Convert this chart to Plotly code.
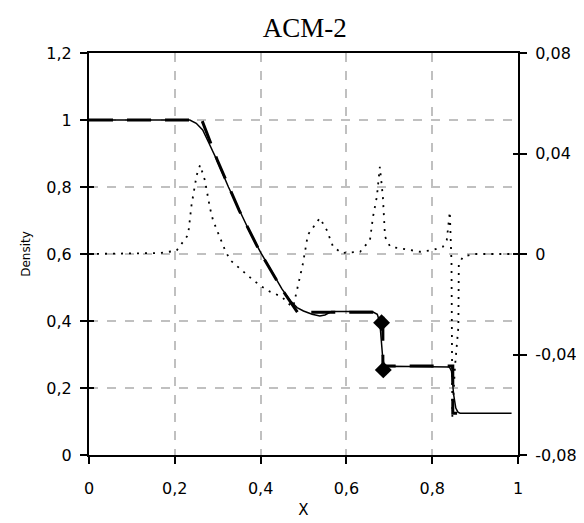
import plotly.graph_objects as go

# Numerical solution (thin solid line)
num_x = [0, 0.235, 0.25, 0.265, 0.28, 0.30, 0.325, 0.35, 0.375, 0.40, 0.425, 0.45,
         0.47, 0.485, 0.50, 0.52, 0.538, 0.55, 0.565, 0.60, 0.66, 0.672, 0.678,
         0.684, 0.688, 0.70, 0.75, 0.80, 0.84, 0.845, 0.85, 0.855, 0.86, 0.865, 0.985]
num_y = [1.0, 1.0, 0.99, 0.97, 0.93, 0.875, 0.80, 0.73, 0.665, 0.605, 0.548, 0.495,
         0.46, 0.44, 0.43, 0.42, 0.415, 0.418, 0.428, 0.428, 0.428, 0.42, 0.395,
         0.30, 0.262, 0.265, 0.265, 0.265, 0.263, 0.25, 0.18, 0.14, 0.128, 0.125, 0.125]

# Exact solution (thick dashed line)
exact_x = [0, 0.263, 0.30, 0.35, 0.40, 0.45, 0.486, 0.685, 0.685, 0.848, 0.848, 0.858]
exact_y = [1.0, 1.0, 0.877, 0.73, 0.603, 0.494, 0.426, 0.426, 0.266, 0.266, 0.125, 0.125]

# Contact discontinuity markers
mark_x = [0.682, 0.686]
mark_y = [0.395, 0.254]

# Error (dotted line, right axis)
err_x = [0, 0.165, 0.204, 0.231, 0.239, 0.247, 0.251, 0.259, 0.270, 0.282, 0.289,
         0.298, 0.317, 0.329, 0.364, 0.382, 0.403, 0.422, 0.449, 0.469, 0.476,
         0.487, 0.498, 0.507, 0.510, 0.538, 0.554, 0.569, 0.589, 0.632, 0.655,
         0.662, 0.671, 0.678, 0.685, 0.690, 0.702, 0.748, 0.772, 0.802, 0.825,
         0.834, 0.841, 0.845, 0.847, 0.853, 0.861, 0.862, 0.872, 0.90, 1.0]
err_y = [0, 0.0004, 0.0013, 0.0076, 0.0195, 0.0268, 0.0314, 0.0354, 0.0294, 0.0183,
         0.0135, 0.0096, 0.0016, -0.0024, -0.0076, -0.0103, -0.0130, -0.0150,
         -0.0170, -0.0203, -0.0210, -0.0130, -0.0044, 0.0044, 0.0076, 0.0143,
         0.0096, 0.0029, 0.0004, 0.0009, 0.0056, 0.0148, 0.0228, 0.0347, 0.0228,
         0.0069, 0.0029, 0.0016, 0.0009, 0.0016, 0.0029, 0.0056, 0.0168, -0.0036,
         -0.0648, -0.045, -0.029, -0.004, -0.001, 0, 0]

x_ticks = [0, 0.2, 0.4, 0.6, 0.8, 1.0]
x_labels = ["0", "0,2", "0,4", "0,6", "0,8", "1"]
y_ticks = [0, 0.2, 0.4, 0.6, 0.8, 1.0, 1.2]
y_labels = ["0", "0,2", "0,4", "0,6", "0,8", "1", "1,2"]
y2_ticks = [-0.08, -0.04, 0, 0.04, 0.08]
y2_labels = ["-0,08", "-0,04", "0", "0,04", "0,08"]

fig = go.Figure()

fig.add_trace(go.Scatter(x=err_x, y=err_y, mode="lines", yaxis="y2",
                         line=dict(color="black", width=1.8, dash="2px,6px"),
                         showlegend=False))
fig.add_trace(go.Scatter(x=num_x, y=num_y, mode="lines",
                         line=dict(color="black", width=1.5), showlegend=False))
fig.add_trace(go.Scatter(x=exact_x, y=exact_y, mode="lines",
                         line=dict(color="black", width=3, dash="24px,14px"),
                         showlegend=False))
fig.add_trace(go.Scatter(x=mark_x, y=mark_y, mode="markers",
                         marker=dict(symbol="diamond", size=13, color="black"),
                         showlegend=False))

axis_font = dict(family="DejaVu Sans", size=16, color="black")

fig.update_layout(
    width=584, height=523,
    margin=dict(l=81, r=74, t=45, b=76),
    paper_bgcolor="white", plot_bgcolor="white",
    title=dict(text="ACM-2", x=0.508, xanchor="center", y=0.962, yanchor="middle",
               font=dict(family="Liberation Serif", size=27, color="black")),
    xaxis=dict(range=[0, 1], tickvals=x_ticks, ticktext=x_labels,
               showline=True, linecolor="black", linewidth=2, mirror=True,
               ticks="outside", ticklen=7, tickwidth=2, tickcolor="black",
               ticklabelstandoff=11,
               showgrid=True, gridcolor="#c0c0c0", gridwidth=1.5, griddash="dash",
               zeroline=False, tickfont=axis_font,
               title=dict(text="X", font=dict(family="DejaVu Sans", size=15, color="black"),
                          standoff=7)),
    yaxis=dict(range=[0, 1.2], tickvals=y_ticks, ticktext=y_labels,
               showline=True, linecolor="black", linewidth=2,
               ticks="outside", ticklen=7, tickwidth=2, tickcolor="black",
               ticklabelstandoff=5,
               showgrid=True, gridcolor="#c0c0c0", gridwidth=1.5, griddash="dash",
               zeroline=False, tickfont=axis_font,
               title=dict(text="Density", font=dict(family="DejaVu Sans", size=12, color="black"),
                          standoff=13)),
    yaxis2=dict(range=[-0.08, 0.08], tickvals=y2_ticks, ticktext=y2_labels,
                overlaying="y", side="right",
                showline=True, linecolor="black", linewidth=2,
                ticks="outside", ticklen=7, tickwidth=2, tickcolor="black",
                ticklabelstandoff=5,
                showgrid=False, zeroline=False, tickfont=axis_font),
    yaxis3=dict(range=[0, 1.2], tickvals=y_ticks, overlaying="y", side="left",
                showticklabels=False, ticks="inside", ticklen=5, tickwidth=2,
                tickcolor="black", showgrid=False, zeroline=False, showline=False),
    yaxis4=dict(range=[-0.08, 0.08], tickvals=y2_ticks, overlaying="y", side="right",
                showticklabels=False, ticks="inside", ticklen=5, tickwidth=2,
                tickcolor="black", showgrid=False, zeroline=False, showline=False),
)

# invisible traces so the inside-tick axes get drawn
fig.add_trace(go.Scatter(x=[None], y=[None], yaxis="y3", showlegend=False, hoverinfo="skip"))
fig.add_trace(go.Scatter(x=[None], y=[None], yaxis="y4", showlegend=False, hoverinfo="skip"))

fig.write_html("out.html")
